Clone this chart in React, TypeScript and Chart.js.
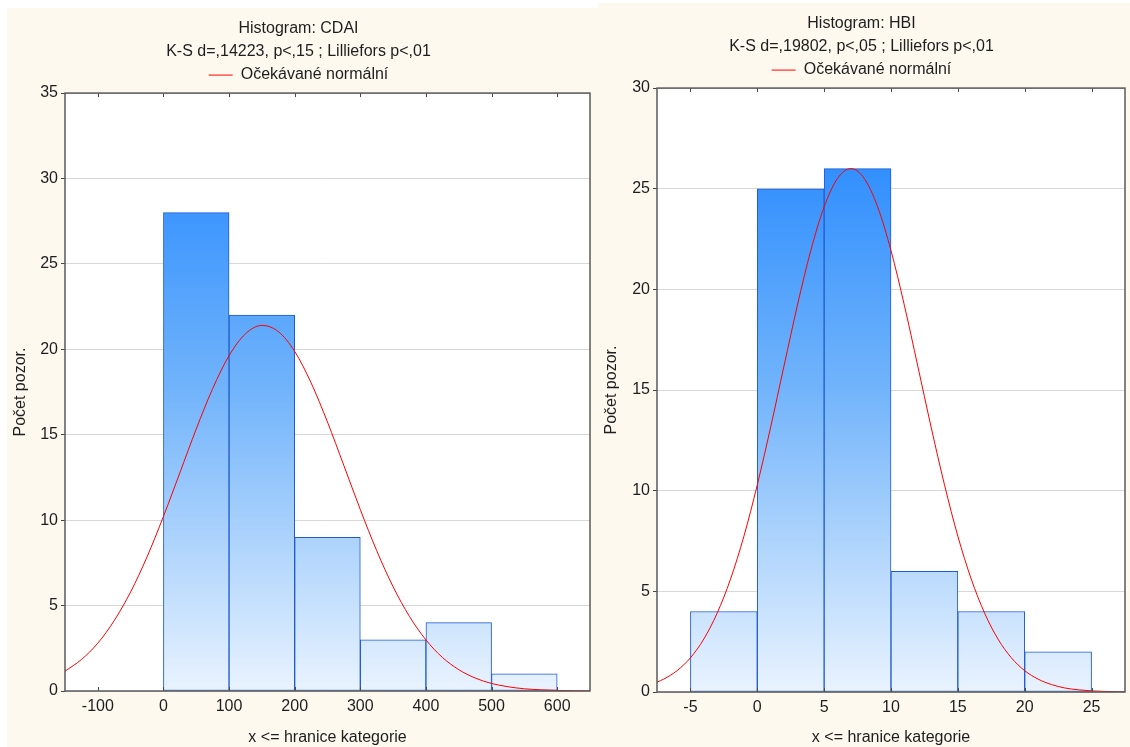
import React, { useEffect, useRef } from "react";
import { Chart, registerables } from "chart.js";

Chart.register(...registerables);

// ---- CDAI data ----
const cdaiBinCenters = [-50, 50, 150, 250, 350, 450, 550];
const cdaiCounts = [0, 28, 22, 9, 3, 4, 1];
const cdaiTicks = [-100, 0, 100, 200, 300, 400, 500, 600];
const cdaiCurveX = [-150, -125, -100, -75, -50, -25, 0, 25, 50, 75, 100, 125, 150, 175, 200, 225, 250, 275, 300, 325, 350, 375, 400, 425, 450, 475, 500, 525, 550, 575, 600, 625, 650];
const cdaiCurveY = [1.16, 1.84, 2.8, 4.12, 5.8, 7.85, 10.22, 12.77, 15.34, 17.7, 19.63, 20.91, 21.4, 21.04, 19.88, 18.04, 15.74, 13.19, 10.62, 8.21, 6.1, 4.36, 2.99, 1.97, 1.25, 0.76, 0.44, 0.25, 0.13, 0.07, 0.035, 0.016, 0.007];

// ---- HBI data ----
const hbiBinCenters = [-2.5, 2.5, 7.5, 12.5, 17.5, 22.5];
const hbiCounts = [4, 25, 26, 6, 4, 2];
const hbiTicks = [-5, 0, 5, 10, 15, 20, 25];
const hbiCurveX = [-7.5, -7, -6, -5, -4, -3, -2, -1, 0, 1, 2, 3, 4, 5, 6, 7, 8, 9, 10, 11, 12, 13, 14, 15, 16, 17, 18, 19, 20, 21, 22, 23, 24, 25, 26, 27, 27.5];
const hbiCurveY = [0.49, 0.64, 1.06, 1.7, 2.63, 3.92, 5.61, 7.74, 10.29, 13.16, 16.2, 19.21, 21.93, 24.1, 25.51, 26.0, 25.51, 24.1, 21.93, 19.21, 16.2, 13.16, 10.29, 7.74, 5.61, 3.92, 2.63, 1.7, 1.06, 0.64, 0.37, 0.2, 0.11, 0.056, 0.028, 0.013, 0.009];

const FONT = "'Liberation Sans', Arial, sans-serif";
const TEXT = "#1e1e1e";
const FS = 16;

interface PanelCfg {
  title: string[];
  centers: number[];
  counts: number[];
  ticks: number[];
  curveX: number[];
  curveY: number[];
  xMin: number;
  xMax: number;
  yMax: number;
  yWidth: number;
  xHeight: number;
  padTop: number;
  padRight: number;
}

const framePlugin = {
  id: "frame",
  afterDatasetsDraw(chart: any) {
    const { ctx, chartArea } = chart;
    const xs = chart.scales.x;
    ctx.save();
    ctx.strokeStyle = "#4a4a4a";
    ctx.lineWidth = 1;
    xs.ticks.forEach((t: any) => {
      const px = Math.round(xs.getPixelForValue(t.value)) + 0.5;
      ctx.beginPath();
      ctx.moveTo(px, chartArea.top);
      ctx.lineTo(px, chartArea.top + 4);
      ctx.moveTo(px, chartArea.bottom);
      ctx.lineTo(px, chartArea.bottom - 4);
      ctx.stroke();
    });
    ctx.strokeStyle = "#5a5a5a";
    ctx.lineWidth = 1.5;
    ctx.strokeRect(chartArea.left, chartArea.top, chartArea.right - chartArea.left, chartArea.bottom - chartArea.top);
    ctx.restore();
  },
};

const bgPlugin = {
  id: "plotbg",
  beforeDraw(chart: any) {
    const { ctx, chartArea, width, height } = chart;
    ctx.save();
    ctx.fillStyle = "#fdf9ef";
    ctx.fillRect(0, 0, width, height);
    ctx.fillStyle = "#ffffff";
    ctx.fillRect(chartArea.left, chartArea.top, chartArea.right - chartArea.left, chartArea.bottom - chartArea.top);
    ctx.restore();
  },
};

function Panel({ cfg, style }: { cfg: PanelCfg; style: React.CSSProperties }) {
  const ref = useRef<HTMLCanvasElement>(null);
  useEffect(() => {
    if (!ref.current) return;
    const barData = cfg.centers.map((c, i) => ({ x: c, y: cfg.counts[i] }));
    const lineData = cfg.curveX.map((x, i) => ({ x, y: cfg.curveY[i] }));
    const chart = new Chart(ref.current, {
      type: "bar",
      data: {
        datasets: [
          {
            type: "bar",
            label: "hist",
            data: barData as any,
            barPercentage: 1,
            categoryPercentage: 1,
            grouped: false,
            borderColor: "#1f5bd0",
            borderWidth: 1,
            borderSkipped: false,
            order: 2,
            backgroundColor: (c: any) => {
              const ca = c.chart.chartArea;
              if (!ca) return "#7ab8f8";
              const g = c.chart.ctx.createLinearGradient(0, ca.top, 0, ca.bottom);
              g.addColorStop(0, "#1a82ff");
              g.addColorStop(0.5, "#72b4fb");
              g.addColorStop(1, "#e9f3fe");
              return g;
            },
          },
          {
            type: "line",
            label: "Očekávané normální",
            data: lineData as any,
            borderColor: "#ff0000",
            backgroundColor: "#ff0000",
            borderWidth: 1,
            pointRadius: 0,
            pointStyle: "line",
            tension: 0.4,
            cubicInterpolationMode: "monotone",
            order: 1,
          },
        ],
      },
      options: {
        animation: false,
        responsive: false,
        maintainAspectRatio: false,
        layout: { padding: { top: cfg.padTop, right: cfg.padRight, bottom: 0, left: 0 } },
        plugins: {
          tooltip: { enabled: false },
          title: {
            display: true,
            text: cfg.title,
            color: TEXT,
            font: { family: FONT, size: FS, weight: "normal", lineHeight: 1.44 },
            padding: { top: 0, bottom: 0 },
          },
          legend: {
            display: true,
            labels: {
              filter: (item: any) => item.datasetIndex === 1,
              usePointStyle: true,
              pointStyleWidth: 24,
              color: TEXT,
              font: { family: FONT, size: FS },
              padding: 4,
            },
          },
        },
        scales: {
          x: {
            type: "linear",
            offset: false,
            min: cfg.xMin,
            max: cfg.xMax,
            afterFit: (s: any) => {
              s.height = cfg.xHeight;
            },
            afterBuildTicks: (s: any) => {
              s.ticks = cfg.ticks.map((v) => ({ value: v }));
            },
            ticks: {
              color: TEXT,
              font: { family: FONT, size: FS },
              padding: 6,
              maxRotation: 0,
              autoSkip: false,
            },
            grid: { display: false, offset: false, drawTicks: false, tickLength: 0 },
            border: { display: false },
            title: {
              display: true,
              text: "x <= hranice kategorie",
              color: TEXT,
              font: { family: FONT, size: FS },
              padding: { top: 0, bottom: 0 },
            },
          },
          y: {
            type: "linear",
            min: 0,
            max: cfg.yMax,
            afterFit: (s: any) => {
              s.width = cfg.yWidth;
            },
            ticks: {
              stepSize: 5,
              color: TEXT,
              font: { family: FONT, size: FS },
              padding: 3,
            },
            grid: {
              color: "#d8d8d8",
              tickColor: "#444",
              tickLength: 4,
            },
            border: { display: false },
            title: {
              display: true,
              text: "Počet pozor.",
              color: TEXT,
              font: { family: FONT, size: FS },
              padding: { top: 4, bottom: 0 },
            },
          },
        },
      },
      plugins: [bgPlugin, framePlugin],
    });
    return () => chart.destroy();
  }, []);
  const w = style.width as number;
  const h = style.height as number;
  return (
    <div style={{ position: "absolute", ...style }}>
      <canvas ref={ref} width={w} height={h} style={{ width: w, height: h, display: "block" }} />
    </div>
  );
}

const cdaiCfg: PanelCfg = {
  title: ["Histogram: CDAI", "K-S d=,14223, p<,15 ; Lilliefors p<,01"],
  centers: cdaiBinCenters,
  counts: cdaiCounts,
  ticks: cdaiTicks,
  curveX: cdaiCurveX,
  curveY: cdaiCurveY,
  xMin: -150,
  xMax: 650,
  yMax: 35,
  yWidth: 58,
  xHeight: 56,
  padTop: 9,
  padRight: 8,
};

const hbiCfg: PanelCfg = {
  title: ["Histogram: HBI", "K-S d=,19802, p<,05 ; Lilliefors p<,01"],
  centers: hbiBinCenters,
  counts: hbiCounts,
  ticks: hbiTicks,
  curveX: hbiCurveX,
  curveY: hbiCurveY,
  xMin: -7.5,
  xMax: 27.5,
  yMax: 30,
  yWidth: 59,
  xHeight: 55,
  padTop: 9,
  padRight: 5,
};

export default function App() {
  return (
    <div style={{ position: "fixed", left: 0, top: 0, width: 1130, height: 747, background: "#ffffff", overflow: "hidden" }}>
      <Panel cfg={cdaiCfg} style={{ left: 7, top: 8, width: 591, height: 739 }} />
      <Panel cfg={hbiCfg} style={{ left: 598, top: 3, width: 532, height: 744 }} />
    </div>
  );
}
